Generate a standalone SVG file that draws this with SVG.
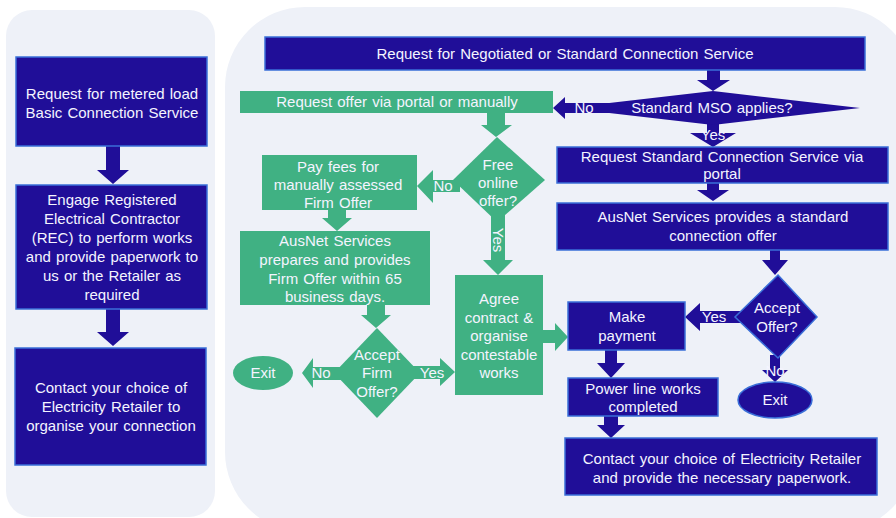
<svg xmlns="http://www.w3.org/2000/svg" width="896" height="518" viewBox="0 0 896 518">
<style>
.panel{fill:#eef1f8}
.b{fill:#200e98;stroke:#3a6fd8;stroke-width:1.5}
.bn{fill:#200e98}
.g{fill:#40b183}
.t{fill:#f4f4ff;font-family:"Liberation Sans",Arial,sans-serif;font-size:15px;word-spacing:1px;text-anchor:middle}
</style>
<rect width="896" height="518" fill="#ffffff"/>
<rect class="panel" x="6" y="10" width="209" height="507" rx="26"/>
<rect class="panel" x="225" y="7" width="690" height="525" rx="80"/>

<g id="connectors">
  <polygon class="bn" points="106,146 120,146 120,170 129,170 113,184 97,170 106,170"/>
  <polygon class="bn" points="106,309 120,309 120,332 129,332 113,346 97,332 106,332"/>
  <polygon class="bn" points="707,70 720,70 720,80 730,80 713,91 697,80 707,80"/>
  <polygon class="bn" points="707,120 719,120 719,133 736,133 713,147 690,133 707,133"/>
  <polygon class="bn" points="707,183 719,183 719,190 729,190 713,201 697,190 707,190"/>
  <polygon class="bn" points="770,250 780,250 780,260 788,260 775,275 762,260 770,260"/>
  <polygon class="bn" points="770,355 780,355 780,370 788,370 775,382 762,370 770,370"/>
  <polygon class="bn" points="740,311 700,311 700,303 685,317 700,331 700,323 740,323"/>
  <polygon class="bn" points="605,350 617,350 617,363 625,363 611,378 597,363 605,363"/>
  <polygon class="bn" points="604,416 618,416 618,425 625,425 611,438 597,425 604,425"/>
  <polygon class="bn" points="615,103 565,103 565,97 553,108 565,119 565,113 615,113"/>

  <polygon class="g" points="487,113 505,113 505,125 512,125 496,137 481,125 487,125"/>
  <polygon class="g" points="460,180 433,180 433,170 417,186 433,203 433,192 460,192"/>
  <polygon class="g" points="491,215 505,215 505,260 513,260 498,275 483,260 491,260"/>
  <polygon class="g" points="328,210 346,210 346,218 352,218 337,231 322,218 328,218"/>
  <polygon class="g" points="367,305 385,305 385,315 391,315 376,328 361,315 367,315"/>
  <polygon class="g" points="345,367 313,367 313,358 302,373 313,388 313,380 345,380"/>
  <polygon class="g" points="410,366 440,366 440,358 455,372 440,386 440,379 410,379"/>
  <polygon class="g" points="543,330 555,330 555,323 568,337 555,351 555,343 543,343"/>
</g>

<g id="n-basic">
  <rect class="b" x="16" y="57" width="191" height="89"/>
  <text class="t" x="112" y="99">Request for metered load</text>
  <text class="t" x="112" y="118">Basic Connection Service</text>
</g>
<g id="n-engage">
  <rect class="b" x="16" y="185" width="191" height="124"/>
  <text class="t" x="112" y="205">Engage Registered</text>
  <text class="t" x="112" y="224">Electrical Contractor</text>
  <text class="t" x="112" y="243">(REC) to perform works</text>
  <text class="t" x="112" y="262">and provide paperwork to</text>
  <text class="t" x="112" y="281">us or the Retailer as</text>
  <text class="t" x="112" y="300">required</text>
</g>
<g id="n-contact-left">
  <rect class="b" x="15" y="348" width="191" height="117"/>
  <text class="t" x="111" y="393">Contact your choice of</text>
  <text class="t" x="111" y="412">Electricity Retailer to</text>
  <text class="t" x="111" y="431">organise your connection</text>
</g>

<g id="n-title">
  <rect class="b" x="265" y="37" width="600" height="33"/>
  <text class="t" x="565" y="59">Request for Negotiated or Standard Connection Service</text>
</g>
<g id="n-mso">
  <polygon class="bn" points="566,108 713,91 860,108 713,125"/>
  <text class="t" x="712" y="113">Standard MSO applies?</text>
</g>
<g id="n-reqstd">
  <rect class="b" x="557" y="147" width="331" height="36"/>
  <text class="t" x="722" y="162">Request Standard Connection Service via</text>
  <text class="t" x="722" y="179">portal</text>
</g>
<g id="n-stdoffer">
  <rect class="b" x="557" y="203" width="331" height="47"/>
  <text class="t" x="723" y="222">AusNet Services provides a standard</text>
  <text class="t" x="723" y="241">connection offer</text>
</g>
<g id="n-acceptoffer">
  <polygon class="b" points="778,275 817,317 778,358 735,317"/>
  <text class="t" x="777" y="313">Accept</text>
  <text class="t" x="777" y="332">Offer?</text>
</g>
<g id="n-exit-blue">
  <ellipse class="b" cx="775" cy="400" rx="37" ry="18"/>
  <text class="t" x="775" y="405">Exit</text>
</g>
<g id="n-payment">
  <rect class="b" x="568" y="302" width="117" height="48"/>
  <text class="t" x="627" y="322">Make</text>
  <text class="t" x="627" y="341">payment</text>
</g>
<g id="n-powerline">
  <rect class="b" x="568" y="378" width="150" height="38"/>
  <text class="t" x="643" y="394">Power line works</text>
  <text class="t" x="643" y="412">completed</text>
</g>
<g id="n-contact-right">
  <rect class="b" x="565" y="438" width="312" height="57"/>
  <text class="t" x="722" y="464">Contact your choice of Electricity Retailer</text>
  <text class="t" x="722" y="483">and provide the necessary paperwork.</text>
</g>

<g id="n-reqoffer">
  <rect class="g" x="240" y="91" width="313" height="22"/>
  <text class="t" x="397" y="107">Request offer via portal or manually</text>
</g>
<g id="n-free">
  <polygon class="g" points="497,137 545,180 497,222 453,180"/>
  <text class="t" x="498" y="170">Free</text>
  <text class="t" x="498" y="188">online</text>
  <text class="t" x="498" y="206">offer?</text>
</g>
<g id="n-payfees">
  <rect class="g" x="262" y="155" width="155" height="55"/>
  <text class="t" x="338" y="172">Pay fees for</text>
  <text class="t" x="338" y="190">manually assessed</text>
  <text class="t" x="338" y="208">Firm Offer</text>
</g>
<g id="n-prepares">
  <rect class="g" x="240" y="231" width="190" height="74"/>
  <text class="t" x="335" y="246">AusNet Services</text>
  <text class="t" x="335" y="265">prepares and provides</text>
  <text class="t" x="335" y="284">Firm Offer within 65</text>
  <text class="t" x="335" y="302">business days.</text>
</g>
<g id="n-acceptfirm">
  <polygon class="g" points="377,328 420,373 377,418 334,373"/>
  <text class="t" x="377" y="360">Accept</text>
  <text class="t" x="377" y="378">Firm</text>
  <text class="t" x="377" y="397">Offer?</text>
</g>
<g id="n-exit-green">
  <ellipse class="g" cx="263" cy="373" rx="30" ry="17"/>
  <text class="t" x="263" y="378">Exit</text>
</g>
<g id="n-agree">
  <rect class="g" x="455" y="275" width="88" height="120"/>
  <text class="t" x="499" y="304">Agree</text>
  <text class="t" x="499" y="323">contract &amp;</text>
  <text class="t" x="499" y="341">organise</text>
  <text class="t" x="499" y="360">contestable</text>
  <text class="t" x="499" y="378">works</text>
</g>

<g id="connector-labels">
  <text class="t" x="584" y="113">No</text>
  <text class="t" x="713" y="140" font-size="13">Yes</text>
  <text class="t" x="714" y="322">Yes</text>
  <text class="t" x="775" y="376" font-size="13">No</text>
  <text class="t" x="443" y="191">No</text>
  <text class="t" transform="translate(493,240) rotate(90)">Yes</text>
  <text class="t" x="321" y="378">No</text>
  <text class="t" x="432" y="378">Yes</text>
</g>
</svg>
